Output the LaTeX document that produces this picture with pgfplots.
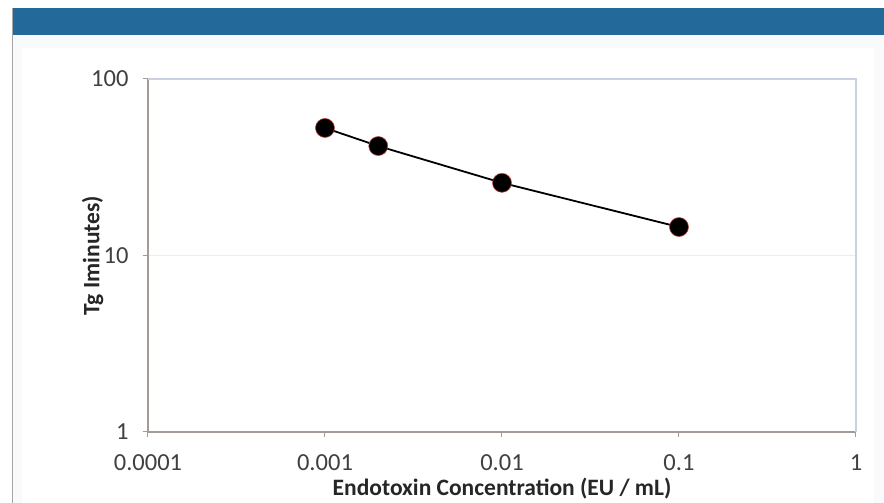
\documentclass[border=0pt]{standalone}
\usepackage{pgfplots}
\pgfplotsset{compat=1.18}
\usepackage{fontspec}
\setmainfont{Carlito}
\definecolor{banner}{RGB}{35,106,155}
\definecolor{panel}{RGB}{249,250,252}
\definecolor{axgray}{RGB}{165,155,150}
\definecolor{frameblue}{RGB}{200,208,225}
\definecolor{ticktext}{RGB}{64,64,64}
\definecolor{rimred}{RGB}{190,70,60}

\begin{document}
\begin{tikzpicture}[x=1pt,y=1pt]
  \useasboundingbox (0,0) rectangle (884,503);
  \fill[white] (0,0) rectangle (884,503);
  \fill[panel] (12,0) rectangle (884,468);
  \fill[white] (22,0) rectangle (874,455);
  \fill[banner] (12,468) rectangle (884,495);
  \draw[gray!70, line width=1pt] (12,0) -- (12,495);

  \begin{axis}[
      at={(148pt,71pt)},
      anchor=south west,
      scale only axis,
      width=708pt,
      height=353pt,
      xmode=log, ymode=log,
      xmin=1e-4, xmax=1,
      ymin=1, ymax=100,
      xtick={1e-4,1e-3,1e-2,1e-1,1},
      xticklabels={0.0001,0.001,0.01,0.1,1},
      ytick={1,10,100},
      yticklabels={1,10,100},
      minor tick style={draw=none},
      axis x line*=bottom,
      axis y line*=left,
      axis line style={axgray, line width=1.2pt, -},
      tick align=outside,
      major tick length=5pt,
      tick style={axgray, line width=1pt},
      ymajorgrids,
      grid style={gray!15, line width=0.8pt},
      tick label style={font=\fontsize{24.5}{28}\selectfont, text=ticktext},
      /pgf/number format/assume math mode=true,
      xticklabel style={yshift=-14pt},
      yticklabel style={xshift=-11pt},
      xlabel={\textbf{Endotoxin Concentration (EU / mL)}},
      ylabel={\textbf{Tg Iminutes)}},
      label style={font=\fontsize{23.5}{27}\selectfont, text=black!85},
      xlabel style={yshift=-1pt},
      ylabel style={yshift=-19pt},
      clip=false,
    ]
    \draw[frameblue, line width=1.2pt] (rel axis cs:0,1) -- (rel axis cs:1,1) -- (rel axis cs:1,0);
    \addplot[black, line width=1.8pt, mark=*,
      mark options={fill=black, draw=rimred, line width=0.6pt},
      mark size=9.5pt] coordinates {
      (0.001, 52.8)
      (0.002, 41.7)
      (0.01, 25.8)
      (0.1, 14.5)
    };
  \end{axis}
\end{tikzpicture}
\end{document}
